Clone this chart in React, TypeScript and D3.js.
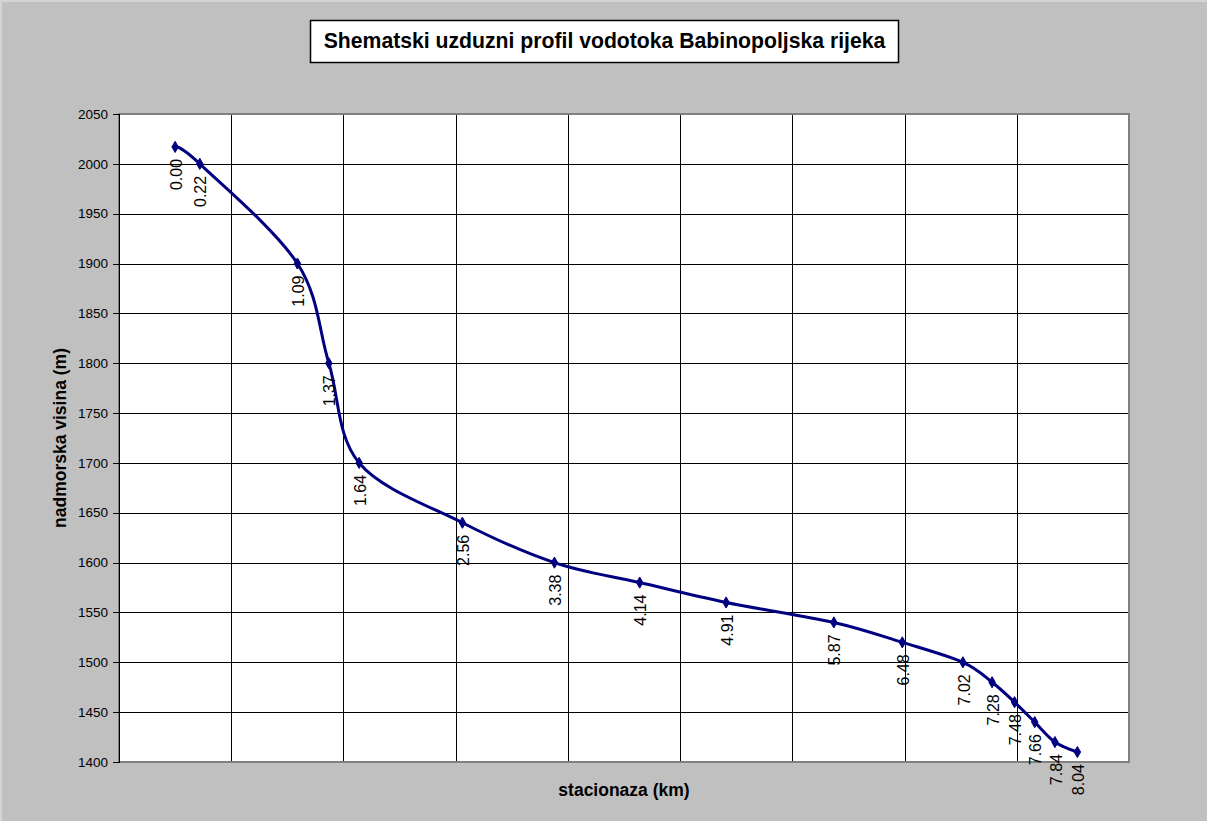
import React from "react";
import * as d3 from "d3";

const stations = [0.0, 0.22, 1.09, 1.37, 1.64, 2.56, 3.38, 4.14, 4.91, 5.87, 6.48, 7.02, 7.28, 7.48, 7.66, 7.84, 8.04];
const elevations = [2017, 2000, 1900, 1800, 1700, 1640, 1600, 1580, 1560, 1540, 1520, 1500, 1480, 1460, 1440, 1420, 1410];
const stationLabels = ["0.00", "0.22", "1.09", "1.37", "1.64", "2.56", "3.38", "4.14", "4.91", "5.87", "6.48", "7.02", "7.28", "7.48", "7.66", "7.84", "8.04"];
const yTicks = [1400, 1450, 1500, 1550, 1600, 1650, 1700, 1750, 1800, 1850, 1900, 1950, 2000, 2050];
const xGrid = [-0.5, 0.5, 1.5, 2.5, 3.5, 4.5, 5.5, 6.5, 7.5, 8.5];

const W = 1207;
const H = 821;
const FONT = "'Liberation Sans', Arial, sans-serif";

export default function App() {
  const left = 119, right = 1129, top = 114, bottom = 762;
  const x = d3.scaleLinear().domain([-0.5, 8.5]).range([left, right]);
  const y = d3.scaleLinear().domain([1400, 2050]).range([bottom, top]);
  const pts: [number, number][] = stations.map((s, i) => [x(s), y(elevations[i])]);
  const line = d3.line().curve(d3.curveCardinal.tension(0))(pts) || "";
  const diamond = d3.symbol().type(d3.symbolDiamond).size(36)() || "";

  return (
    <svg width={W} height={H} style={{ position: "absolute", left: 0, top: 0, display: "block" }} fontFamily={FONT}>
      <rect x={0} y={0} width={W} height={H} fill="#c0c0c0" />
      <line x1={0.5} y1={0} x2={0.5} y2={H} stroke="#d4d4d4" strokeWidth={3} />
      <line x1={0} y1={0.5} x2={W} y2={0.5} stroke="#d4d4d4" strokeWidth={3} />
      {/* title */}
      <rect x={310.5} y={20.5} width={588} height={42} fill="#fff" stroke="#000" strokeWidth={1.5} />
      <text x={604.5} y={48} textAnchor="middle" fontWeight="bold" fontSize={21.2} fill="#000">
        Shematski uzduzni profil vodotoka Babinopoljska rijeka
      </text>
      {/* plot area */}
      <rect x={left} y={top} width={right - left} height={bottom - top} fill="#fff" />
      {yTicks.map((t) => (
        <line key={"h" + t} x1={left} x2={right} y1={Math.round(y(t)) + 0.5} y2={Math.round(y(t)) + 0.5} stroke="#000" strokeWidth={1} />
      ))}
      {xGrid.map((g) => (
        <line key={"v" + g} x1={Math.round(x(g)) + 0.5} x2={Math.round(x(g)) + 0.5} y1={top} y2={bottom} stroke="#000" strokeWidth={1} />
      ))}
      <rect x={left} y={top} width={right - left} height={bottom - top} fill="none" stroke="#808080" strokeWidth={2} />
      <line x1={left + 0.5} x2={left + 0.5} y1={top} y2={bottom + 1} stroke="#000" strokeWidth={1} />
      {yTicks.map((t) => (
        <g key={"t" + t}>
          <line x1={left - 6} x2={left} y1={Math.round(y(t)) + 0.5} y2={Math.round(y(t)) + 0.5} stroke="#000" strokeWidth={1} />
          <text x={left - 11} y={y(t)} dy="0.35em" textAnchor="end" fontSize={13.5} fill="#000">
            {t}
          </text>
        </g>
      ))}
      {/* series */}
      <path d={line} fill="none" stroke="#000080" strokeWidth={3} strokeLinejoin="round" />
      {pts.map((p, i) => (
        <path key={"m" + i} d={diamond} transform={`translate(${p[0]},${p[1]})`} fill="#000080" stroke="#000080" strokeWidth={1} />
      ))}
      {pts.map((p, i) => (
        <text
          key={"l" + i}
          transform={`translate(${p[0] + 1},${p[1] + 12}) rotate(-90)`}
          textAnchor="end"
          dy="0.35em"
          fontSize={16}
          fill="#000"
        >
          {stationLabels[i]}
        </text>
      ))}
      {/* axis titles */}
      <text transform={`translate(66,${(top + bottom) / 2}) rotate(-90)`} textAnchor="middle" fontWeight="bold" fontSize={17.5} fill="#000">
        nadmorska visina (m)
      </text>
      <text x={(left + right) / 2} y={796} textAnchor="middle" fontWeight="bold" fontSize={17.5} fill="#000">
        stacionaza (km)
      </text>
    </svg>
  );
}
